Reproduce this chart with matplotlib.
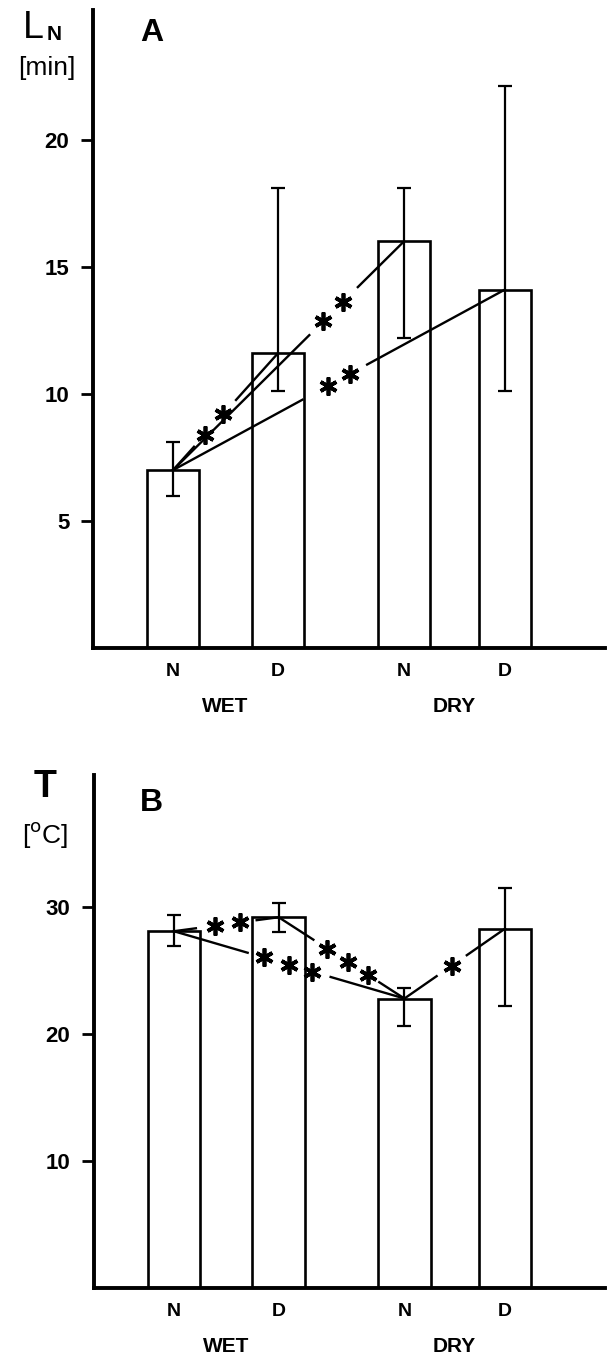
import numpy as np
import matplotlib.pyplot as plt

# bar labels
groups = ["N", "D", "N", "D"]
seasons = ["WET", "DRY"]

# panel A: L_N [min]
ln_mean = [7.0, 11.6, 16.0, 14.1]
ln_lo = [6.0, 10.1, 12.2, 10.1]
ln_hi = [8.1, 18.1, 18.1, 22.1]

# panel B: T [oC]
t_mean = [28.1, 29.2, 22.8, 28.3]
t_lo = [26.9, 28.0, 20.6, 22.2]
t_hi = [29.4, 30.3, 23.6, 31.5]

# significance links: (from bar, to bar, star positions along line, gap)
links_a = [
    (0, 1, [0.30, 0.48], (0.20, 0.60)),
    (0, 2, [0.65, 0.735], (0.59, 0.80)),
    (0, 3, [0.467, 0.533], (0.39, 0.585)),
]
links_b = [
    (0, 1, [0.39, 0.63], (0.21, 0.79)),
    (1, 2, [0.386, 0.55, 0.71], (0.276, 0.80)),
    (0, 2, [0.39, 0.50, 0.60], (0.32, 0.68)),
    (2, 3, [0.47], (0.32, 0.62)),
]

xpos = np.array([1.0, 2.0, 3.2, 4.16])
plt.rcParams['font.family'] = ['Liberation Sans', 'DejaVu Sans']


def link(ax, x0, y0, x1, y1, stars, gap):
    ta, tb = gap
    dx, dy = x1 - x0, y1 - y0
    ax.plot([x0, x0 + dx * ta], [y0, y0 + dy * ta], color='k', lw=1.7, zorder=4)
    ax.plot([x0 + dx * tb, x1], [y0 + dy * tb, y1], color='k', lw=1.7, zorder=4)
    for t in stars:
        ax.plot(x0 + dx * t, y0 + dy * t, marker=(6, 2, 0), ms=13, mew=2.7,
                color='k', zorder=5)


def panel(ax, mean, lo, hi, links, ymax, yticks):
    mean = np.array(mean)
    err = [mean - np.array(lo), np.array(hi) - mean]
    ax.bar(xpos, mean, width=0.5, facecolor='white', edgecolor='k', lw=1.9, zorder=2)
    ax.errorbar(xpos, mean, yerr=err, fmt='none', ecolor='k', elinewidth=1.6,
                capsize=5, capthick=1.6, zorder=3)
    for i, j, st, gap in links:
        link(ax, xpos[i], mean[i], xpos[j], mean[j], st, gap)
    ax.set_xlim(0.238, 5.114)
    ax.set_ylim(0, ymax)
    for s in ['top', 'right']:
        ax.spines[s].set_visible(False)
    for s in ['left', 'bottom']:
        ax.spines[s].set_linewidth(2.8)
    ax.set_yticks(yticks)
    ax.set_yticklabels([str(v) for v in yticks], fontsize=16, fontweight='bold')
    ax.tick_params(axis='y', length=9, width=2, pad=8)
    ax.set_xticks(xpos)
    ax.set_xticklabels(groups, fontsize=14, fontweight='bold')
    ax.tick_params(axis='x', length=0, pad=11)
    for k, name in enumerate(seasons):
        xc = (xpos[2 * k] + xpos[2 * k + 1]) / 2
        ax.annotate(name, (xc, 0), xycoords=('data', 'axes fraction'),
                    xytext=(0, -58), textcoords='offset pixels',
                    ha='center', va='center', fontsize=15, fontweight='bold')


fig = plt.figure(figsize=(6.07, 13.58), dpi=100)
ax_a = fig.add_axes([0.1532, 0.5228, 0.8435, 0.4698])
ax_b = fig.add_axes([0.1549, 0.0515, 0.8418, 0.3778])

panel(ax_a, ln_mean, ln_lo, ln_hi, links_a, 25.1, [5, 10, 15, 20])
panel(ax_b, t_mean, t_lo, t_hi, links_b, 40.4, [10, 20, 30])

fig.text(140 / 607, 1 - 33 / 1358, "A", fontsize=23, fontweight='bold', va='center')
fig.text(140 / 607, 1 - 803 / 1358, "B", fontsize=23, fontweight='bold', va='center')

fig.text(23 / 607, 1 - 28 / 1358, "L", fontsize=27, va='center')
fig.text(47 / 607, 1 - 35 / 1358, "N", fontsize=15, fontweight='bold', va='center')
fig.text(47 / 607, 1 - 68 / 1358, "[min]", fontsize=19, ha='center', va='center')

fig.text(45 / 607, 1 - 787 / 1358, "T", fontsize=27, fontweight='bold', ha='center', va='center')
fig.text(45 / 607, 1 - 835 / 1358, r"[$^{\mathrm{o}}$C]", fontsize=19, ha='center', va='center')

fig.savefig("out.png", dpi=100)
